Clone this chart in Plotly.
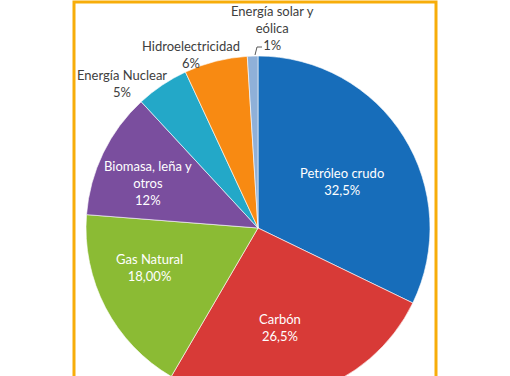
import plotly.graph_objects as go

labels = ["Petróleo crudo", "Carbón", "Gas Natural", "Biomasa, leña y otros",
          "Energía Nuclear", "Hidroelectricidad", "Energía solar y eólica"]
values = [32.5, 26.5, 18.0, 12.0, 5.0, 6.0, 1.0]
text_labels = ["Petróleo crudo<br>32,5%", "Carbón<br>26,5%", "Gas Natural<br>18,00%",
               "Biomasa, leña y<br>otros<br>12%", "Energía Nuclear<br>5%",
               "Hidroelectricidad<br>6%", "Energía solar y<br>eólica<br>1%"]
colors = ["#176DBA", "#D83A37", "#8BBB34", "#7A4E9E", "#23A8C8", "#F88A12", "#8FB0D8"]
text_colors = ["white", "white", "white", "white", "#404040", "#404040", "#404040"]
# label centres in pixels (x, y from top)
label_pos = [(342, 182), (280, 327), (149, 267), (148, 183), (122, 84), (191, 54), (272, 28)]

W, H = 510, 410
cx, cy, r = 258, 228, 172

fig = go.Figure(go.Pie(
    labels=labels, values=values,
    textinfo="none", automargin=False,
    sort=False, direction="clockwise", rotation=0,
    marker=dict(colors=colors, line=dict(color="rgba(255,255,255,0.6)", width=1)),
    domain=dict(x=[(cx - r) / W, (cx + r) / W], y=[1 - (cy + r) / H, 1 - (cy - r) / H]),
    showlegend=False, hoverinfo="label+value",
))

for txt, col, (px, py) in zip(text_labels, text_colors, label_pos):
    fig.add_annotation(text=txt, x=px / W, y=1 - py / H, xref="paper", yref="paper",
                       showarrow=False, xanchor="center", yanchor="middle", align="center",
                       font=dict(family="Lato", size=13, color=col))

# leader line for the 1% label
fig.add_shape(type="path", xref="paper", yref="paper",
              path=f"M {255/W} {1-55/H} L {257/W} {1-47/H} L {262/W} {1-47/H}",
              line=dict(color="#595959", width=1))

fig.add_shape(type="rect", xref="paper", yref="paper",
              x0=74 / W, x1=436 / W, y0=-0.1, y1=1 - 2 / H,
              line=dict(color="#F7AD0A", width=3), layer="above")

fig.update_layout(width=W, height=H, margin=dict(l=0, r=0, t=0, b=0),
                  paper_bgcolor="white", plot_bgcolor="white",
                  font=dict(family="Lato", size=13, color="#404040"))
fig.write_html("out.html", config={"displayModeBar": False},
               post_script="document.body.style.margin='0';document.body.style.overflow='hidden';")
